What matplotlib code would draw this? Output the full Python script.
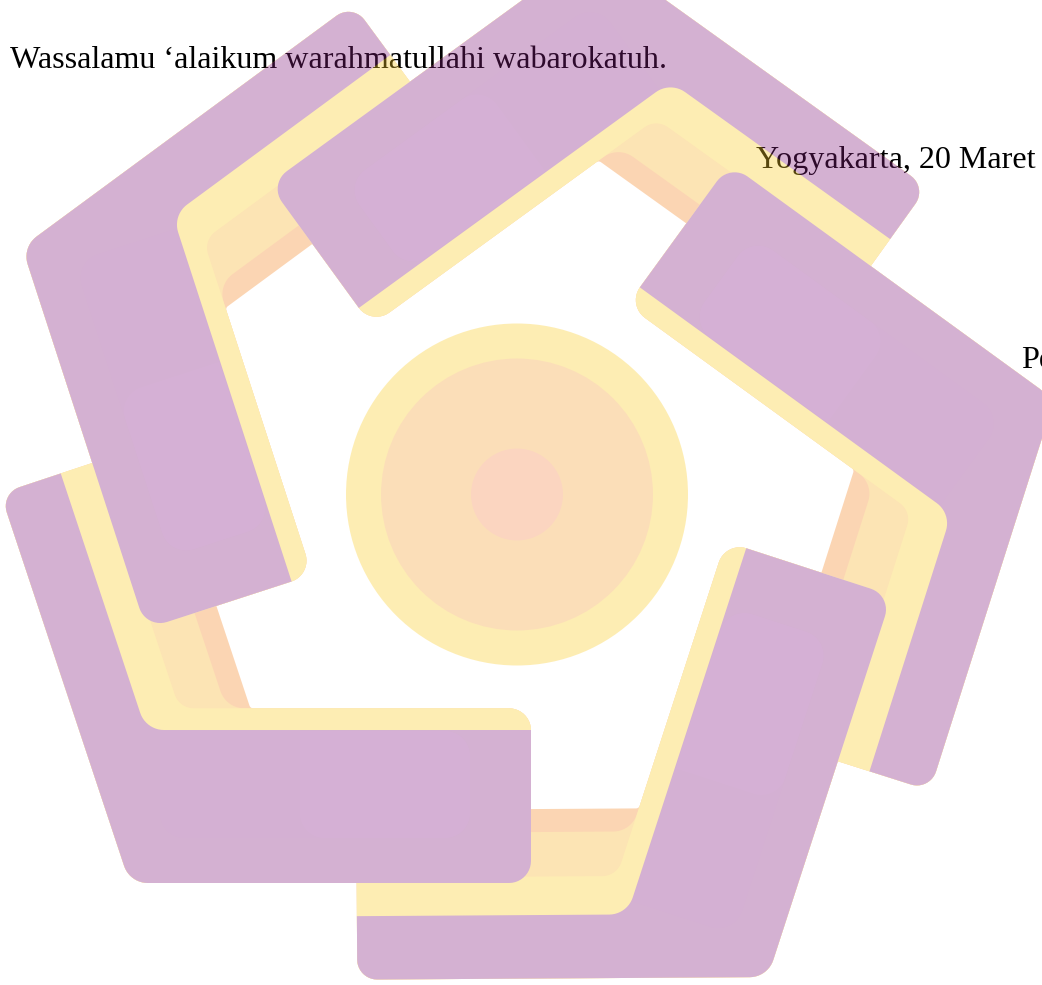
import numpy as np
import matplotlib
matplotlib.use("Agg")
import matplotlib.pyplot as plt
from matplotlib.patches import Polygon, Circle
from matplotlib.collections import PatchCollection

# teks surat di bawah watermark
baris_teks = ["Wassalamu \u2018alaikum warahmatullahi wabarokatuh.",
              "Yogyakarta, 20 Maret",
              "Pe"]
teks_x = [10, 756, 1021]
teks_y = [68, 168, 368]

# watermark logo: 5 lengan berbentuk L, diputar tiap 72 derajat
pusat = np.array([513.5, 491.0])
sudut_lengan = [0, 72, 144, 216, 288]

# lengan kiri bawah sebagai acuan (koordinat piksel gambar)
arah_u = np.array([0.315, 0.949])      # arah lengan tipis
arah_n = np.array([0.949, -0.315])     # normal lengan tipis
tepi_luar = -155.0
ujung_atas = 468.5
tepi_bawah = 883.0
tepi_kanan = 531.0

# lapisan: tepi dalam lengan tipis, tepi dalam lengan tebal, jari-jari sudut, warna
lapis_nama = ["oranye", "persik", "kuning", "ungu"]
lapis_dalam_tipis = [14.5, -8.5, -53.0, -91.5]
lapis_dalam_tebal = [708.3, 708.3, 708.3, 730.0]
lapis_jari = [[20, 25, 22, 22, 4, 0],
              [20, 25, 22, 22, 25, 0],
              [20, 25, 22, 22, 20, 0],
              [20, 25, 22, 0, 25, 0]]
lapis_warna = ["#f68726", "#f9b228", "#fccc26", "#84207e"]

# sorotan merah muda di lengan tebal (samar)
sorot_x = [[160, 470], [300, 470]]
sorot_y = [731, 838]
sorot_alpha = [0.2, 0.25]
warna_sorot = "#921d9b"

# lingkaran tengah
lingkaran_pusat = (517, 494.5)
lingkaran_r = [171, 136, 46]
lingkaran_warna = ["#fccc26", "#f6a334", "#f6874b"]

tembus_pandang = 0.35


def titik(nv, uv):
    return nv * arah_n + uv * arah_u


def x_pada(nv, y):
    return (nv - arah_n[1] * y) / arah_n[0]


def bulatkan(verts, radii, n=12):
    out = []
    m = len(verts)
    for i in range(m):
        v = verts[i]
        r = radii[i]
        if r <= 0:
            out.append(v)
            continue
        p = verts[i - 1]
        q = verts[(i + 1) % m]
        a = (p - v) / np.linalg.norm(p - v)
        b = (q - v) / np.linalg.norm(q - v)
        half = np.arccos(np.clip(a @ b, -1, 1)) / 2
        t = r / np.tan(half)
        t1 = v + a * t
        t2 = v + b * t
        bis = (a + b) / np.linalg.norm(a + b)
        o = v + bis * r / np.sin(half)
        a1 = np.arctan2(t1[1] - o[1], t1[0] - o[0])
        a2 = np.arctan2(t2[1] - o[1], t2[0] - o[0])
        d = (a2 - a1 + np.pi) % (2 * np.pi) - np.pi
        for k in np.linspace(0, 1, n):
            ang = a1 + d * k
            out.append(o + r * np.array([np.cos(ang), np.sin(ang)]))
    return np.array(out)


def putar(pts, sudut):
    a = np.deg2rad(sudut)
    c, s = np.cos(a), np.sin(a)
    d = pts - pusat
    return np.column_stack([pusat[0] + d[:, 0] * c - d[:, 1] * s,
                            pusat[1] + d[:, 0] * s + d[:, 1] * c])


def bentuk_L(dalam_tipis, dalam_tebal, jari):
    v = np.array([
        titik(tepi_luar, ujung_atas),
        [x_pada(tepi_luar, tepi_bawah), tepi_bawah],
        [tepi_kanan, tepi_bawah],
        [tepi_kanan, dalam_tebal],
        [x_pada(dalam_tipis, dalam_tebal), dalam_tebal],
        titik(dalam_tipis, ujung_atas),
    ])
    return bulatkan(v, jari)


def tembus(img, dpi):
    img = img.copy()
    img[..., 3] *= tembus_pandang
    return img, 0, 0


fig = plt.figure(figsize=(10.42, 9.85), dpi=100)
ax = fig.add_axes([0, 0, 1, 1])
ax.set_xlim(0, 1042)
ax.set_ylim(985, 0)
ax.axis("off")

for s, x, y in zip(baris_teks, teks_x, teks_y):
    ax.text(x, y, s, fontsize=23.1, family="Liberation Serif", color="black",
            ha="left", va="baseline", zorder=1)

patches = []
for dalam_tipis, dalam_tebal, jari, warna in zip(lapis_dalam_tipis, lapis_dalam_tebal,
                                                 lapis_jari, lapis_warna):
    dasar = bentuk_L(dalam_tipis, dalam_tebal, jari)
    for sd in sudut_lengan:
        patches.append(Polygon(putar(dasar, sd), closed=True, facecolor=warna,
                               edgecolor="none"))

for (x0, x1), al in zip(sorot_x, sorot_alpha):
    kotak = bulatkan(np.array([[x0, sorot_y[0]], [x1, sorot_y[0]],
                               [x1, sorot_y[1]], [x0, sorot_y[1]]]), [0, 25, 25, 25])
    for sd in sudut_lengan:
        patches.append(Polygon(putar(kotak, sd), closed=True, facecolor=warna_sorot,
                               edgecolor="none", alpha=al))

for r, warna in zip(lingkaran_r, lingkaran_warna):
    patches.append(Circle(lingkaran_pusat, r, facecolor=warna, edgecolor="none"))

logo = PatchCollection(patches, match_original=True, zorder=2)
logo.set_agg_filter(tembus)
ax.add_collection(logo)

fig.savefig("out.png", dpi=100)
